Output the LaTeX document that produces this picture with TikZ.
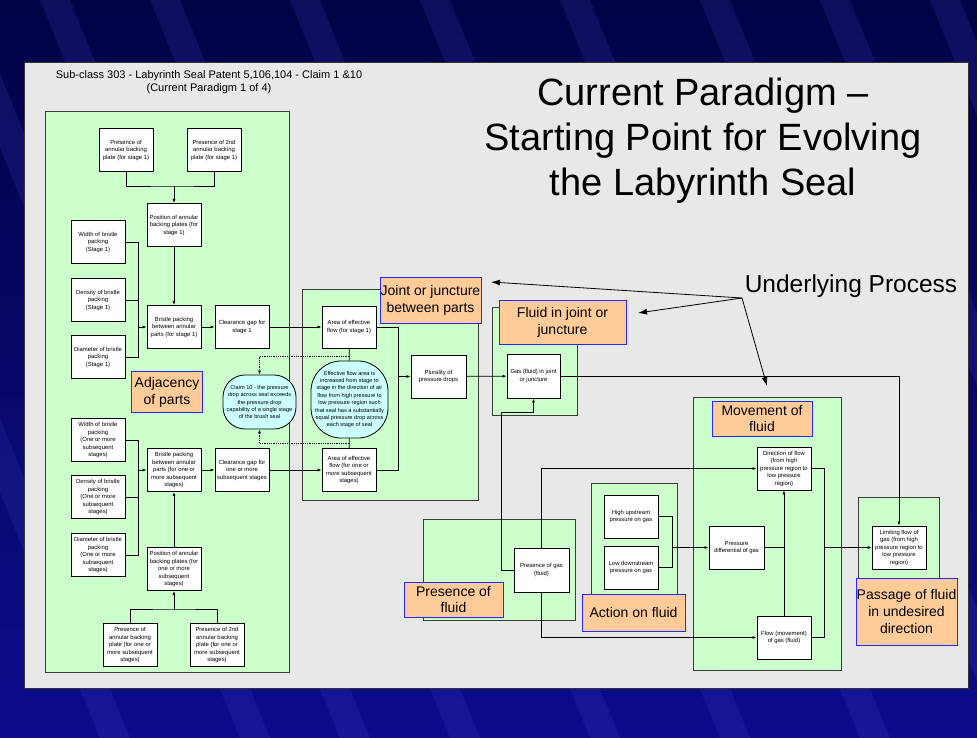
\documentclass[tikz,border=0pt]{standalone}
\usepackage{fontspec}
\setmainfont{Liberation Sans}
\usetikzlibrary{arrows.meta}
\definecolor{navytop}{RGB}{2,2,70}
\definecolor{navybottom}{RGB}{12,12,140}
\definecolor{streakblue}{RGB}{70,70,200}
\definecolor{slidegrey}{RGB}{232,232,232}
\definecolor{panelgreen}{RGB}{204,255,204}
\definecolor{panelgrey}{RGB}{60,60,60}
\definecolor{tagorange}{RGB}{255,204,153}
\definecolor{tagblue}{RGB}{40,40,255}
\definecolor{ovalcyan}{RGB}{204,255,255}

\begin{document}
\begin{tikzpicture}[x=1pt, y=-1pt, line width=0.8pt]
\tikzstyle{box}=[draw, fill=white, minimum width=54pt, minimum height=43pt, inner sep=0.5pt, align=center, font=\fontsize{5.9}{7.5}\selectfont]
\tikzstyle{oval}=[draw, fill=ovalcyan, align=center, inner sep=0.5pt, font=\fontsize{5.6}{7.4}\selectfont]
\tikzstyle{tag}=[draw=tagblue, fill=tagorange, align=center, inner sep=0pt, font=\fontsize{14}{16.8}\selectfont]
\tikzstyle{panel}=[draw=panelgrey, fill=panelgreen, line width=1pt]
\tikzstyle{arr}=[-{Latex[length=4pt,width=3pt]}]
\tikzstyle{bigarr}=[-{Latex[length=9pt,width=6pt]}]

\useasboundingbox (0,0) rectangle (977,738);
\clip (0,0) rectangle (977,738);

% slide background
\shade[top color=navytop, bottom color=navybottom] (0,0) rectangle (977,738);
\foreach \x in {-200,-60,40,150,290,420,560,700,820,930} {
\fill[streakblue, opacity=0.18] (\x,0) -- (\x+30,0) -- (\x+330,738) -- (\x+300,738) -- cycle;
}
\filldraw[fill=slidegrey, draw=black!80] (24,62) rectangle (968,688);

% green panels
\draw[panel] (45,112) rectangle (289,672);
\draw[panel] (302,289) rectangle (478,500);
\draw[panel] (492,307) rectangle (577,415);
\draw[panel] (423,519) rectangle (575,620);
\draw[panel] (591,483) rectangle (677,600);
\draw[panel] (693,397) rectangle (841,670);
\draw[panel] (858,497) rectangle (939,585);

% titles
\node[font=\fontsize{11}{13}\selectfont, align=center] (subclass) at (209,82) {Sub-class 303 - Labyrinth Seal Patent 5,106,104 - Claim 1 \&10\\(Current Paradigm 1 of 4)};
\node[font=\fontsize{38}{45}\selectfont, align=center] (title) at (703,141) {Current Paradigm –\\Starting Point for Evolving\\the Labyrinth Seal};
\node[font=\fontsize{24.5}{28}\selectfont] (under) at (851,286) {Underlying Process};

% stage 1
\node[box] (plate1a) at (126,150) {Presence of\\annular backing\\plate (for stage 1)};
\node[box] (plate1b) at (214,150) {Presence of 2nd\\annular backing\\plate (for stage 1)};
\node[box] (pos1) at (174,225) {Position of annular\\backing plates (for\\stage 1)};
\node[box] (width1) at (98,242) {Width of bristle\\packing\\(Stage 1)};
\node[box] (dens1) at (98,300) {Density of bristle\\packing\\(Stage 1)};
\node[box] (diam1) at (98,357) {Diameter of bristle\\packing\\(Stage 1)};
\node[box] (brist1) at (174,327) {Bristle packing\\between annular\\parts (for stage 1)};
\node[box] (gap1) at (242,327) {Clearance gap for\\stage 1};

% subsequent stages
\node[box] (width2) at (98,440) {Width of bristle\\packing\\(One or more\\subsequent\\stages)};
\node[box] (dens2) at (98,497) {Density of bristle\\packing\\(One or more\\subsequent\\stages)};
\node[box] (diam2) at (98,555) {Diameter of bristle\\packing\\(One or more\\subsequent\\stages)};
\node[box] (brist2) at (174,470) {Bristle packing\\between annular\\parts (for one or\\more subsequent\\stages)};
\node[box] (gap2) at (242,470) {Clearance gap for\\one or more\\subsequent stages};
\node[box] (pos2) at (174,569) {Position of annular\\backing plates (for\\one or more\\subsequent\\stages)};
\node[box] (plate2a) at (130,645) {Presence of\\annular backing\\plate (for one or\\more subsequent\\stages)};
\node[box] (plate2b) at (217,645) {Presence of 2nd\\annular backing\\plate (for one or\\more subsequent\\stages)};

\node[tag, minimum width=71pt, minimum height=41pt] (adjacency) at (167,392) {Adjacency\\of parts};
\node[oval, minimum width=73pt, minimum height=54pt, rounded corners=22pt] (claim) at (259.5,402) {Claim 10 - the pressure\\drop across seal exceeds\\the pressure drop\\capability of a single stage\\of the brush seal};

% joint or juncture
\node[box, minimum height=42pt] (area1) at (349,327) {Area of effective\\flow (for stage 1)};
\node[oval, minimum width=77pt, minimum height=77pt, rounded corners=30pt] (effect) at (349.5,399.5) {Effective flow area is\\increased from stage to\\stage in the direction of air\\flow from high pressure to\\low pressure region such\\that seal has a substantially\\equal pressure drop across\\each stage of seal};
\node[box] (area2) at (349,470) {Area of effective\\flow (for one or\\more subsequent\\stages)};
\node[box, minimum width=55pt] (plural) at (438.5,376.5) {Plurality of\\pressure drops};
\node[tag, minimum width=101pt, minimum height=46pt] (joint) at (430.5,300) {Joint or juncture\\between parts};

% fluid
\node[box, minimum width=53pt, minimum height=44pt] (gasjoint) at (533.5,376) {Gas (fluid) in joint\\or juncture};
\node[tag, minimum width=127pt, minimum height=44pt] (fluidjoint) at (562.5,322) {Fluid in joint or\\juncture};
\node[box, minimum width=55pt, minimum height=44pt] (gas) at (541.5,570) {Presence of gas\\(fluid)};
\node[tag, minimum width=99pt, minimum height=35pt] (presence) at (453.5,599.5) {Presence of\\fluid};
\node[box] (high) at (631,516.5) {High upstream\\pressure on gas};
\node[box] (low) at (631,567.5) {Low downstream\\pressure on gas};
\node[tag, minimum width=103pt, minimum height=37pt] (action) at (633.5,612.5) {Action on fluid};
\node[box, minimum width=55pt] (diff) at (736.5,547.5) {Pressure\\differential of gas};
\node[box] (direct) at (784,468.5) {Direction of flow\\(from high\\pressure region to\\low pressure\\region)};
\node[box] (flow) at (784,637.5) {Flow (movement)\\of gas (fluid)};
\node[tag, minimum width=100pt, minimum height=35pt] (movement) at (762,418.5) {Movement of\\fluid};
\node[box] (limit) at (899,547.5) {Limiting flow of\\gas (from high\\pressure region to\\low pressure\\region)};
\node[tag, minimum width=101pt, minimum height=67pt] (passage) at (906.5,611.5) {Passage of fluid\\in undesired\\direction};

% junctions
\coordinate (j1) at (174,186);
\coordinate (j2) at (138,327);
\coordinate (j3) at (138,470);
\coordinate (j4) at (174,609);
\coordinate (j5) at (349,356);
\coordinate (j6) at (349,443);
\coordinate (j7) at (398,376.5);
\coordinate (j8) at (501,412);
\coordinate (j9) at (672,547.5);
\coordinate (j10) at (784,547.5);
\coordinate (j11) at (824,547.5);
\coordinate (from) at (742,298);
\coordinate (to1) at (491,282);
\coordinate (to2) at (638,313);
\coordinate (to3) at (767,386);

\draw (plate1a) |- (j1) -| (plate1b);
\draw[arr] (j1) -- (pos1);
\draw[arr] (pos1) -- (brist1);
\draw (width1) -| (j2);
\draw (diam1) -| (j2);
\draw (dens1) -| (j2);
\draw[arr] (j2) -- (brist1);
\draw[arr] (brist1) -- (gap1);
\draw[arr] (gap1) -- (area1);

\draw (plate2a) |- (j4) -| (plate2b);
\draw[arr] (j4) -- (pos2);
\draw[arr] (pos2) -- (brist2);
\draw (width2) -| (j3);
\draw (diam2) -| (j3);
\draw (dens2) -| (j3);
\draw[arr] (j3) -- (brist2);
\draw[arr] (brist2) -- (gap2);
\draw[arr] (gap2) -- (area2);

\draw (area1) -- (effect);
\draw (effect) -- (area2);
\draw[arr, densely dotted] (j5) -| (claim);
\draw[arr, densely dotted] (j6) -| (claim);
\draw (area1) -| (j7);
\draw (area2) -| (j7);
\draw[arr] (j7) -- (plural);
\draw[arr] (plural) -- (gasjoint);
\draw[arr] (gasjoint) -| (limit);

\draw[arr] (gas) -| (j8) -| (gasjoint);
\draw[arr] (gas) |- (direct);
\draw[arr] (gas) |- (flow);
\draw (high) -| (j9);
\draw (low) -| (j9);
\draw[arr] (j9) -- (diff);
\draw (diff) -- (j10);
\draw[arr, {Latex[length=4pt,width=3pt]}-] (direct) -- (flow);
\draw (direct) -| (j11);
\draw (flow) -| (j11);
\draw[arr] (j11) -- (limit);

\draw[bigarr] (from) -- (to1);
\draw[bigarr] (from) -- (to2);
\draw[bigarr] (from) -- (to3);

\end{tikzpicture}
\end{document}
